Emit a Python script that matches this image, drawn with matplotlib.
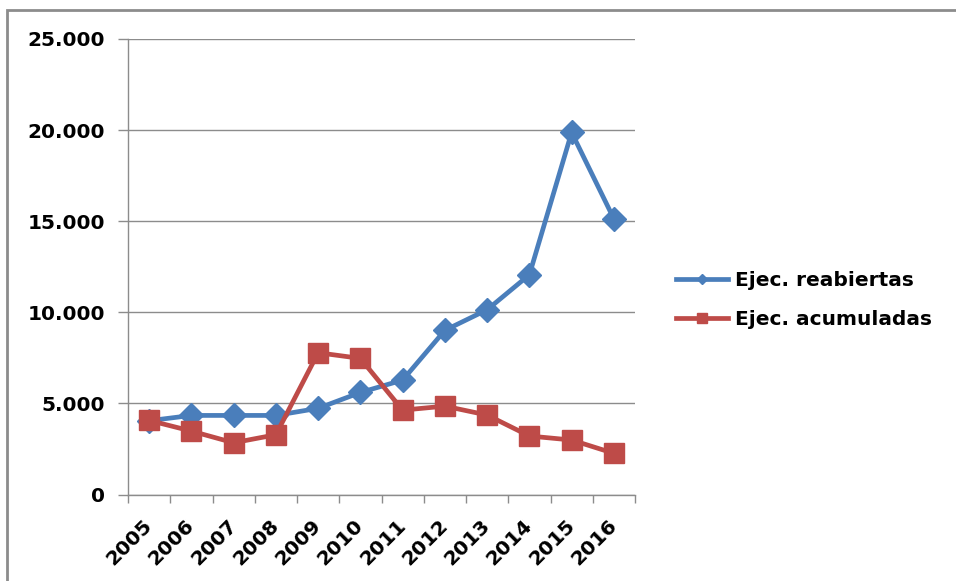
import numpy as np
import matplotlib
matplotlib.use('Agg')
import matplotlib.pyplot as plt
from matplotlib.lines import Line2D
from matplotlib.patches import Rectangle

years = ['2005', '2006', '2007', '2008', '2009', '2010',
         '2011', '2012', '2013', '2014', '2015', '2016']
reabiertas = [4050, 4340, 4340, 4340, 4730, 5600, 6280, 9010, 10140, 12060, 19870, 15130]
acumuladas = [4066, 3480, 2840, 3280, 7780, 7470, 4630, 4850, 4360, 3210, 2990, 2260]
yticks = [0, 5000, 10000, 15000, 20000, 25000]
ytick_labels = ['0', '5.000', '10.000', '15.000', '20.000', '25.000']

blue = '#4a7ebb'
red = '#be4b48'
grey = '#8c8c8c'

plt.rcParams['font.family'] = 'DejaVu Sans'
plt.rcParams['font.weight'] = 'bold'

fig = plt.figure(figsize=(9.56, 5.81), dpi=100)
ax = fig.add_axes([128/956., 1-494.5/581., (635-128)/956., (494.5-39)/581.])

x = np.arange(len(years))
ax.plot(x, reabiertas, color=blue, lw=3.4, marker='D', ms=12, mec=blue, zorder=3)
ax.plot(x, acumuladas, color=red, lw=3.4, marker='s', ms=15, mec=red, zorder=4)

ax.set_xlim(-0.5, len(years) - 0.5)
ax.set_ylim(0, 25000)

# y axis: gridlines and dotted thousands labels
ax.set_yticks(yticks)
ax.set_yticklabels(ytick_labels, fontsize=14.5, fontweight='bold')
ax.yaxis.grid(True, color=grey, lw=1)
ax.set_axisbelow(True)
ax.tick_params(axis='y', length=7, width=1, color=grey, pad=9.5)

# x axis: tick marks between categories, labels at centres
ax.set_xticks(np.arange(len(years) + 1) - 0.5)
ax.set_xticklabels([])
ax.tick_params(axis='x', which='major', length=6, width=1, color=grey)
ax.set_xticks(x, minor=True)
ax.set_xticklabels(years, minor=True, fontsize=14.5, fontweight='bold',
                   rotation=45, ha='right', va='center', rotation_mode='anchor')
ax.tick_params(axis='x', which='minor', length=0, pad=20)

for side in ['top', 'right']:
    ax.spines[side].set_visible(False)
for side in ['left', 'bottom']:
    ax.spines[side].set_color(grey)
    ax.spines[side].set_linewidth(1)

handles = [Line2D([], [], color=blue, lw=3.4, marker='D', ms=5),
           Line2D([], [], color=red, lw=3.4, marker='s', ms=6.5)]
fig.legend(handles, ['Ejec. reabiertas', 'Ejec. acumuladas'],
           loc='center left', bbox_to_anchor=(658/956., 1-300/581.),
           frameon=False, prop={'size': 14.5, 'weight': 'bold'},
           handlelength=2.6, handletextpad=0.3, labelspacing=0.95)

# outer chart border
fig.patches.append(Rectangle((7/956., -0.1), 1.2, 1.1 - 10/581., transform=fig.transFigure,
                             fill=False, edgecolor=grey, lw=2))

fig.savefig('out.png', dpi=100)
